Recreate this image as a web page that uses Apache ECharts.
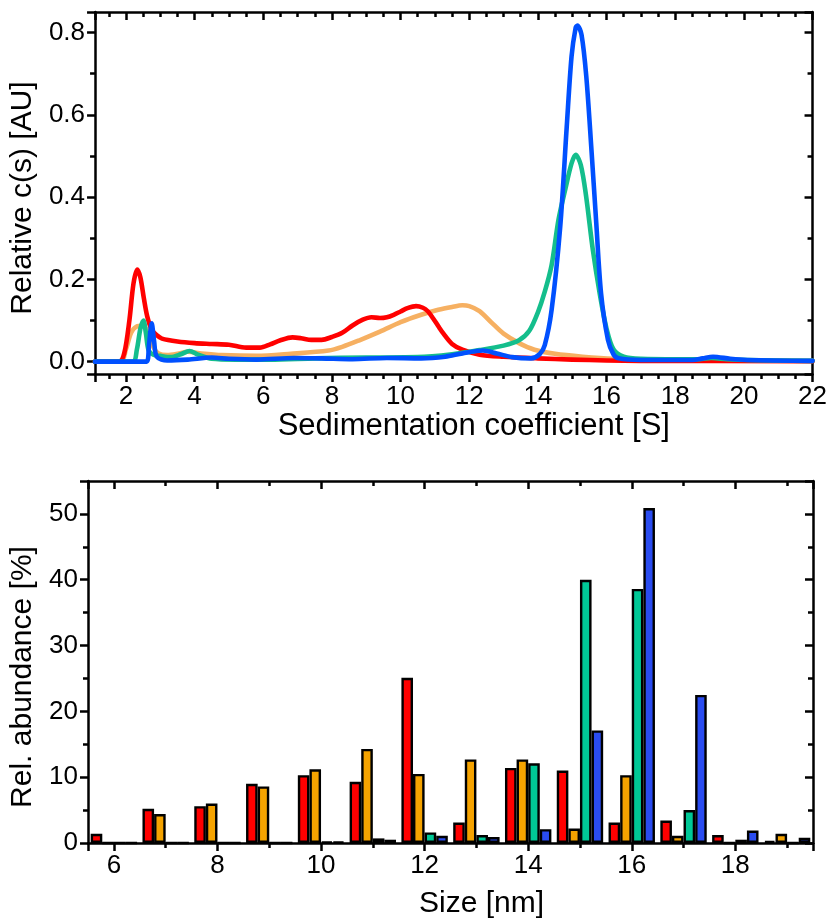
<!DOCTYPE html>
<html>
<head>
<meta charset="utf-8">
<script src="https://cdn.jsdelivr.net/npm/echarts@6/dist/echarts.min.js"></script>
<style>
  html, body { margin: 0; padding: 0; background: #fff; }
  #chart { width: 830px; height: 922px; }
</style>
</head>
<body>
<div id="chart"></div>
<script>
// c(s) distributions, [sedimentation coefficient S, relative c(s)]
const redCurve = [[1.1,0],[1.8,0],[1.95,0.02],[2.1,0.1],[2.22,0.19],[2.33,0.224],[2.42,0.205],[2.52,0.155],[2.62,0.11],[2.75,0.078],[2.9,0.064],[3.05,0.056],[3.5,0.049],[4.0,0.045],[4.5,0.043],[5.0,0.041],[5.5,0.034],[5.9,0.034],[6.2,0.042],[6.5,0.052],[6.85,0.059],[7.1,0.057],[7.4,0.053],[7.7,0.053],[8.0,0.06],[8.3,0.07],[8.6,0.088],[8.9,0.102],[9.15,0.108],[9.4,0.106],[9.6,0.108],[9.8,0.114],[10.0,0.122],[10.2,0.13],[10.45,0.135],[10.65,0.131],[10.8,0.122],[10.95,0.105],[11.1,0.086],[11.25,0.068],[11.5,0.043],[11.8,0.029],[12.3,0.017],[13.0,0.012],[14.0,0.008],[15.0,0.005],[16.0,0.003],[17.0,0.002],[22.0,0.001]];
const orangeCurve = [[1.1,0],[1.85,0],[2.0,0.03],[2.15,0.07],[2.3,0.085],[2.5,0.087],[2.65,0.07],[2.8,0.035],[2.95,0.02],[3.2,0.016],[3.5,0.019],[3.8,0.024],[4.2,0.02],[4.8,0.016],[5.8,0.014],[6.8,0.019],[7.9,0.027],[8.3,0.036],[8.8,0.052],[9.4,0.073],[10.0,0.096],[10.6,0.114],[11.1,0.126],[11.5,0.133],[11.8,0.137],[12.0,0.135],[12.3,0.123],[12.65,0.095],[13.0,0.068],[13.45,0.045],[13.9,0.029],[14.5,0.019],[15.3,0.012],[16.2,0.007],[18.0,0.004],[22.0,0.002]];
const greenCurve = [[1.1,0],[2.2,0],[2.32,0.03],[2.42,0.08],[2.51,0.1],[2.58,0.07],[2.66,0.028],[2.8,0.017],[3.0,0.014],[3.3,0.011],[3.6,0.018],[3.85,0.026],[4.1,0.017],[4.5,0.007],[5.2,0.005],[6.2,0.005],[7.5,0.008],[9.0,0.01],[10.5,0.011],[11.5,0.018],[12.3,0.028],[13.0,0.039],[13.45,0.052],[13.75,0.075],[14.0,0.12],[14.2,0.17],[14.4,0.235],[14.6,0.345],[14.8,0.42],[14.98,0.482],[15.1,0.503],[15.25,0.478],[15.4,0.405],[15.6,0.272],[15.8,0.166],[16.0,0.08],[16.2,0.03],[16.5,0.012],[17.0,0.007],[18.1,0.006],[18.7,0.006],[19.05,0.009],[19.5,0.006],[20.1,0.004],[22.0,0.002]];
const blueCurve = [[1.1,0],[2.6,0],[2.67,0.04],[2.75,0.093],[2.82,0.05],[2.9,0.012],[3.2,0.003],[3.8,0.005],[4.5,0.01],[5.0,0.007],[5.8,0.005],[6.9,0.009],[7.7,0.008],[8.6,0.006],[9.6,0.009],[10.6,0.008],[11.3,0.012],[11.8,0.02],[12.4,0.027],[12.8,0.02],[13.25,0.011],[13.8,0.008],[14.05,0.018],[14.2,0.04],[14.4,0.126],[14.65,0.328],[14.84,0.571],[14.98,0.742],[15.1,0.812],[15.15,0.817],[15.27,0.795],[15.41,0.693],[15.56,0.515],[15.7,0.337],[15.84,0.166],[16.04,0.053],[16.2,0.018],[16.35,0.008],[17.0,0.004],[18.5,0.004],[18.8,0.008],[19.1,0.012],[19.6,0.007],[20.1,0.004],[22.0,0.002]];

// size histogram (%)
const sizes = [6, 7, 8, 9, 10, 11, 12, 13, 14, 15, 16, 17, 18, 19];
const redBars    = [1.4, 5.2, 5.6, 9.0, 10.3, 9.3, 25.1, 3.1, 11.4, 11.0, 3.1, 3.4, 1.2, 0.3];
const orangeBars = [0, 4.4, 6.0, 8.6, 11.2, 14.3, 10.5, 12.7, 12.7, 2.2, 10.3, 1.1, 0, 1.4];
const greenBars  = [0, 0, 0, 0, 0.2, 0.7, 1.6, 1.2, 12.1, 40.0, 38.6, 5.0, 0.5, 0];
const blueBars   = [0, 0, 0, 0, 0.2, 0.5, 1.1, 0.9, 2.1, 17.1, 50.9, 22.5, 1.9, 0.8];

const FONT = 'Liberation Sans';
const black = { color: '#000', width: 2.5 };

// one frame side; mirror axes get inner ticks and no labels
function frameAxis(grid, pos, range, splitNumber, minor, label, name) {
  const mirror = pos === 'top' || pos === 'right';
  return {
    type: 'value',
    gridIndex: grid,
    position: pos,
    min: range[0],
    max: range[1],
    splitNumber: splitNumber,
    axisLine: { show: true, onZero: false, lineStyle: black },
    axisTick: { show: true, inside: mirror, length: 8, lineStyle: black },
    minorTick: { show: true, splitNumber: minor, length: 5, lineStyle: black },
    splitLine: { show: false },
    axisLabel: Object.assign({
      show: !mirror,
      color: '#000',
      fontFamily: FONT,
      fontSize: 26,
      margin: 10,
      showMinLabel: false
    }, label || {}),
    name: name ? name.text : '',
    nameLocation: 'middle',
    nameGap: name ? name.gap : 0,
    nameTextStyle: name ? {
      color: '#000', fontFamily: FONT, fontSize: name.size || 30, padding: name.padding
    } : undefined
  };
}

function curve(data, color) {
  return {
    type: 'line', xAxisIndex: 0, yAxisIndex: 0, data: data,
    showSymbol: false, smooth: 0.3, clip: true,
    lineStyle: { color: color, width: 4.6, cap: 'round', join: 'round' }
  };
}

function bars(values, color) {
  return {
    type: 'bar', xAxisIndex: 2, yAxisIndex: 2,
    data: sizes.map((s, i) => [s, values[i]]),
    barWidth: 11.6, barGap: '0%',
    itemStyle: { color: color, borderColor: '#000', borderWidth: 2.4 }
  };
}

function drawChart() {
  const myChart = echarts.init(document.getElementById('chart'));
  myChart.setOption({
    animation: false,
    backgroundColor: '#fff',
    grid: [
      { left: 91, top: 12, width: 726, height: 362 },
      { left: 88, top: 481, width: 725, height: 362 }
    ],
    xAxis: [
      frameAxis(0, 'bottom', [1.1, 22], 10, 4, { showMaxLabel: true },
        { text: 'Sedimentation coefficient [S]', gap: 34, size: 31, padding: [0, 0, 0, 40] }),
      frameAxis(0, 'top', [1.1, 22], 10, 4),
      frameAxis(1, 'bottom', [5.5, 19.5], 7, 2, { showMaxLabel: false },
        { text: 'Size [nm]', gap: 46, padding: [0, 0, 0, 62] }),
      frameAxis(1, 'top', [5.5, 19.5], 7, 2)
    ],
    yAxis: [
      frameAxis(0, 'left', [-0.03, 0.85], 5, 2,
        { showMaxLabel: false, formatter: v => v.toFixed(1) },
        { text: 'Relative c(s) [AU]', gap: 52, padding: [0, 10, 0, 0] }),
      frameAxis(0, 'right', [-0.03, 0.85], 5, 2),
      frameAxis(1, 'left', [0, 55], 5, 2, { showMinLabel: true, showMaxLabel: false },
        { text: 'Rel. abundance [%]', gap: 50, padding: [0, 30, 0, 0] }),
      frameAxis(1, 'right', [0, 55], 5, 2)
    ],
    series: [
      curve(orangeCurve, '#f6b062'),
      curve(redCurve, '#ff0000'),
      curve(greenCurve, '#14be8c'),
      curve(blueCurve, '#0050ff'),
      bars(redBars, '#ff0000'),
      bars(orangeBars, '#f5a300'),
      bars(greenBars, '#00c896'),
      bars(blueBars, '#2a4cf0')
    ]
  });
}

drawChart();
</script>
</body>
</html>
